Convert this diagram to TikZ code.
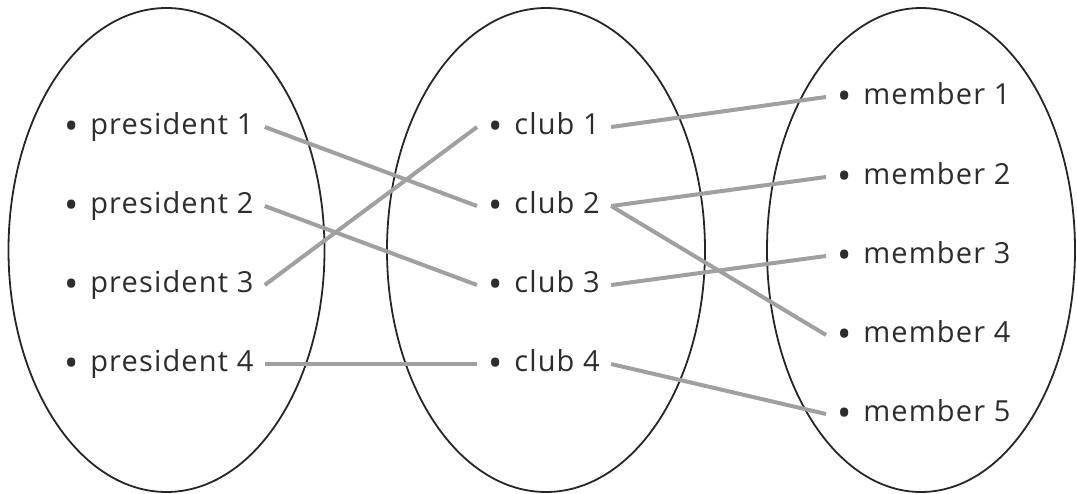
\documentclass[tikz,border=0pt]{standalone}
\usepackage{fontspec}
\setmainfont{Open Sans}[LetterSpace=4]
\usetikzlibrary{positioning}
\definecolor{linkgray}{RGB}{160,160,160}
\definecolor{textdark}{RGB}{45,45,45}
\newcommand{\itm}[1]{\raisebox{-2.6pt}{\fontsize{19}{19}\selectfont\textbullet}\hspace{0.4em}#1}

\begin{document}
\begin{tikzpicture}[x=0.5pt,y=-0.5pt]
\tikzset{item/.style={anchor=west,inner xsep=5.5pt,inner ysep=0pt,text height=0.96em,text depth=0.2em,font=\fontsize{14.5}{18}\selectfont,text=textdark}}
\tikzset{link/.style={draw=linkgray,line width=2pt}}
\tikzset{set/.style={draw=black!85,line width=0.9pt}}
\useasboundingbox (0,0) rectangle (1077,493);
\draw [set] (166.5,250) ellipse (158 and 242);
\draw [set] (546,250) ellipse (159 and 242);
\draw [set] (921,250) ellipse (154 and 242);
% presidents
\node [item] (p1) at (53,127) {\itm{president 1}};
\node [item] (p2) at (53,206) {\itm{president 2}};
\node [item] (p3) at (53,285) {\itm{president 3}};
\node [item] (p4) at (53,364) {\itm{president 4}};
% clubs
\node [item] (c1) at (477,127) {\itm{club 1}};
\node [item] (c2) at (477,206) {\itm{club 2}};
\node [item] (c3) at (477,285) {\itm{club 3}};
\node [item] (c4) at (477,364) {\itm{club 4}};
% members
\node [item] (m1) at (826,97) {\itm{member 1}};
\node [item] (m2) at (826,177) {\itm{member 2}};
\node [item] (m3) at (826,256) {\itm{member 3}};
\node [item] (m4) at (826,335) {\itm{member 4}};
\node [item] (m5) at (826,414) {\itm{member 5}};
\draw [link] (p1.east) -- (c2.west);
\draw [link] (p2.east) -- (c3.west);
\draw [link] (p3.east) -- (c1.west);
\draw [link] (p4.east) -- (c4.west);
\draw [link] (c1.east) -- (m1.west);
\draw [link] (c2.east) -- (m2.west);
\draw [link] (c2.east) -- (m4.west);
\draw [link] (c3.east) -- (m3.west);
\draw [link] (c4.east) -- (m5.west);
\end{tikzpicture}
\end{document}
